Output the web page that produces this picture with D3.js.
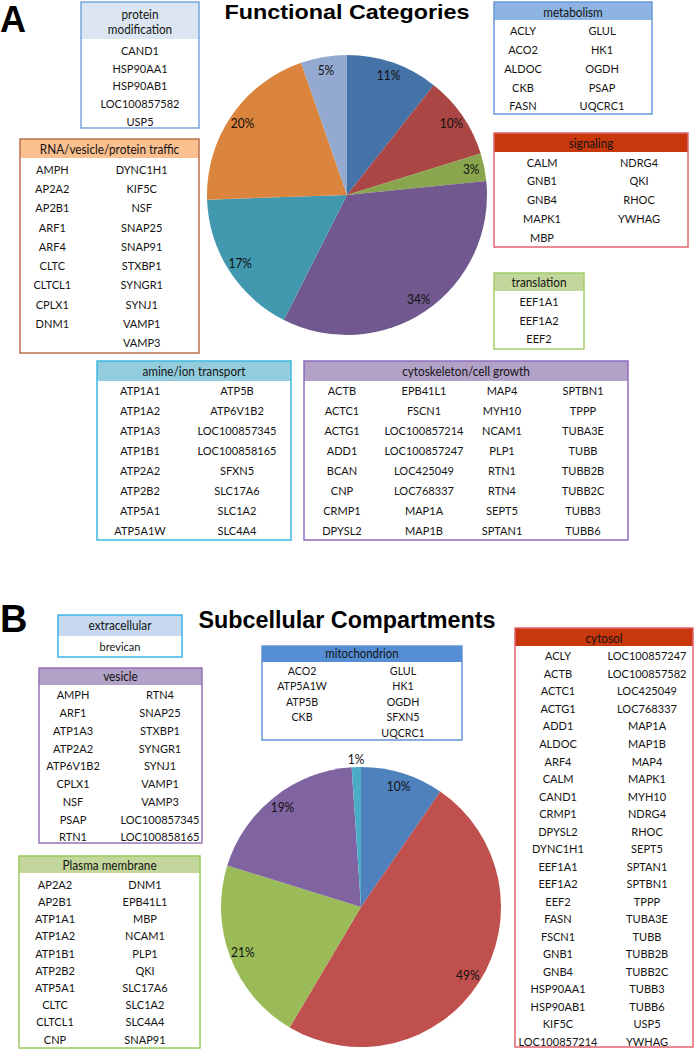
<!DOCTYPE html>
<html><head><meta charset="utf-8">
<script src="https://cdn.jsdelivr.net/npm/d3@7"></script>
<style>body{margin:0;background:#fff}svg{display:block}</style>
</head><body>
<script>
// ---------- DATA ----------
const funcCategories = ["metabolism","signaling","translation","cytoskeleton/cell growth","amine/ion transport","RNA/vesicle/protein traffic","protein modification"];
const funcCounts = [10, 9, 3, 32, 16, 19, 5];
const compCategories = ["mitochondrion","cytosol","Plasma membrane","vesicle","extracellular"];
const compCounts = [9, 46, 20, 18, 1];

const genesMetabolism = ["ACLY","ACO2","ALDOC","CKB","FASN","GLUL","HK1","OGDH","PSAP","UQCRC1"];
const genesSignaling = ["CALM","GNB1","GNB4","MAPK1","MBP","NDRG4","QKI","RHOC","YWHAG"];
const genesTranslation = ["EEF1A1","EEF1A2","EEF2"];
const genesCytoskeleton = ["ACTB","ACTC1","ACTG1","ADD1","BCAN","CNP","CRMP1","DPYSL2",
  "EPB41L1","FSCN1","LOC100857214","LOC100857247","LOC425049","LOC768337","MAP1A","MAP1B",
  "MAP4","MYH10","NCAM1","PLP1","RTN1","RTN4","SEPT5","SPTAN1",
  "SPTBN1","TPPP","TUBA3E","TUBB","TUBB2B","TUBB2C","TUBB3","TUBB6"];
const genesAmine = ["ATP1A1","ATP1A2","ATP1A3","ATP1B1","ATP2A2","ATP2B2","ATP5A1","ATP5A1W",
  "ATP5B","ATP6V1B2","LOC100857345","LOC100858165","SFXN5","SLC17A6","SLC1A2","SLC4A4"];
const genesTraffic = ["AMPH","AP2A2","AP2B1","ARF1","ARF4","CLTC","CLTCL1","CPLX1","DNM1",
  "DYNC1H1","KIF5C","NSF","SNAP25","SNAP91","STXBP1","SYNGR1","SYNJ1","VAMP1","VAMP3"];
const genesProtMod = ["CAND1","HSP90AA1","HSP90AB1","LOC100857582","USP5"];

const genesMito = ["ACO2","ATP5A1W","ATP5B","CKB","GLUL","HK1","OGDH","SFXN5","UQCRC1"];
const genesCytosol = ["ACLY","ACTB","ACTC1","ACTG1","ADD1","ALDOC","ARF4","CALM","CAND1","CRMP1","DPYSL2","DYNC1H1","EEF1A1","EEF1A2","EEF2","FASN","FSCN1","GNB1","GNB4","HSP90AA1","HSP90AB1","KIF5C","LOC100857214",
  "LOC100857247","LOC100857582","LOC425049","LOC768337","MAP1A","MAP1B","MAP4","MAPK1","MYH10","NDRG4","RHOC","SEPT5","SPTAN1","SPTBN1","TPPP","TUBA3E","TUBB","TUBB2B","TUBB2C","TUBB3","TUBB6","USP5","YWHAG"];
const genesPlasma = ["AP2A2","AP2B1","ATP1A1","ATP1A2","ATP1B1","ATP2B2","ATP5A1","CLTC","CLTCL1","CNP",
  "DNM1","EPB41L1","MBP","NCAM1","PLP1","QKI","SLC17A6","SLC1A2","SLC4A4","SNAP91"];
const genesVesicle = ["AMPH","ARF1","ATP1A3","ATP2A2","ATP6V1B2","CPLX1","NSF","PSAP","RTN1",
  "RTN4","SNAP25","STXBP1","SYNGR1","SYNJ1","VAMP1","VAMP3","LOC100857345","LOC100858165"];
const genesExtra = ["brevican"];

const titleA = "Functional Categories";
const titleB = "Subcellular Compartments";

// ---------- STYLE / LAYOUT ----------
const funcColors = ["#4572A7","#AA4643","#89A54E","#71588F","#4198AF","#DB843D","#93A9CF"];
const compColors = ["#4F81BD","#C0504D","#9BBB59","#8064A2","#4BACC6"];
const FONT = "Lato, 'Open Sans', sans-serif";
const HFONT = "'Liberation Sans', Arial, sans-serif";
const SX = 0.92; // narrow, Calibri-like text

const svg = d3.select("body").append("svg").attr("width",694).attr("height",1050);

function drawPie(cx, cy, r, values, colors) {
  const total = d3.sum(values);
  const arcs = d3.pie().sort(null).value(d => d)(values);
  const arc = d3.arc().innerRadius(0).outerRadius(r);
  const g = svg.append("g").attr("transform", `translate(${cx},${cy})`);
  g.selectAll("path").data(arcs).join("path")
    .attr("d", arc).attr("fill", (d,i) => colors[i]);
  const fmt = d3.format(".0%");
  g.selectAll("text").data(arcs).join("text")
    .attr("transform", d => {
      const frac = d.value / total;
      const lr = frac < 0.02 ? r + 8 : r * 0.905;
      const a = (d.startAngle + d.endAngle) / 2;
      return `translate(${lr*Math.sin(a)},${-lr*Math.cos(a)}) scale(${SX},1)`;
    })
    .attr("text-anchor","middle").attr("dy","0.35em")
    .attr("font-family", FONT).attr("font-size", 13).attr("fill","#111")
    .text(d => fmt(d.value / total));
}

function label(g, x, y, t, fs) {
  g.append("text").attr("transform", `translate(${x},${y}) scale(${SX},1)`).attr("dy","0.36em")
    .attr("text-anchor","middle").attr("font-family", FONT).attr("font-size", fs)
    .attr("fill","#141414").text(t);
}

function drawBox(L, titleLines, genes) {
  const g = svg.append("g");
  g.append("rect").attr("x", L.x).attr("y", L.y).attr("width", L.w).attr("height", L.hh)
    .attr("fill", L.fill);
  g.append("rect").attr("x", L.x).attr("y", L.y).attr("width", L.w).attr("height", L.h)
    .attr("fill","none").attr("stroke", L.stroke).attr("stroke-width", 1.5);
  titleLines.forEach((t, i) => label(g, L.x + L.w/2, L.ty[i], t, L.tfs || 12.8));
  let idx = 0;
  L.perCol.forEach((n, c) => {
    for (let k = 0; k < n; k++) label(g, L.cols[c], L.r0 + k * L.rh, genes[idx++], L.fs || 12);
  });
}

// Panel A
svg.append("text").attr("x",0).attr("y",32).attr("font-family",HFONT).attr("font-weight","bold")
  .attr("font-size",36).text("A");
svg.append("text").attr("x",347).attr("y",19).attr("text-anchor","middle").attr("font-family",HFONT)
  .attr("font-weight","bold").attr("font-size",21).attr("textLength",245).attr("lengthAdjust","spacingAndGlyphs")
  .text(titleA);
drawPie(347, 195, 140, funcCounts, funcColors);

drawBox({x:81,y:2,w:118,h:126,hh:37,fill:"#DCE6F2",stroke:"#7AA6DE",ty:[14,29],r0:50.3,rh:17.9,cols:[140],perCol:[5]},
  ["protein","modification"], genesProtMod);
drawBox({x:494,y:2,w:158,h:112,hh:18,fill:"#8DB4E2",stroke:"#6B9BD8",ty:[12],r0:31,rh:18.75,cols:[523,602],perCol:[5,5]},
  [funcCategories[0]], genesMetabolism);
drawBox({x:20,y:139,w:179,h:214,hh:19,fill:"#FAC090",stroke:"#B8714C",ty:[149],r0:169.3,rh:19.3,cols:[52.3,141.7],perCol:[9,10]},
  [funcCategories[5]], genesTraffic);
drawBox({x:494,y:133,w:194,h:114,hh:19,fill:"#C8380C",stroke:"#E06470",ty:[143.3],r0:162.3,rh:18.75,cols:[542,639],perCol:[5,4]},
  [funcCategories[1]], genesSignaling);
drawBox({x:494,y:273,w:90,h:76,hh:18,fill:"#C3D69B",stroke:"#A3CE6B",ty:[282.5],r0:301.7,rh:18.5,cols:[539],perCol:[3]},
  [funcCategories[2]], genesTranslation);
drawBox({x:97,y:361,w:194,h:179,hh:20,fill:"#93CDDD",stroke:"#3CB8E0",ty:[371],r0:391,rh:19.9,cols:[140,237],perCol:[8,8]},
  [funcCategories[4]], genesAmine);
drawBox({x:304,y:361,w:324,h:179,hh:20,fill:"#B3A2C7",stroke:"#8F6CBE",ty:[371],r0:391,rh:19.9,cols:[342,424,502,583],perCol:[8,8,8,8]},
  [funcCategories[3]], genesCytoskeleton);

// Panel B
svg.append("text").attr("x",0).attr("y",632).attr("font-family",HFONT).attr("font-weight","bold")
  .attr("font-size",38).text("B");
svg.append("text").attr("x",347).attr("y",628).attr("text-anchor","middle").attr("font-family",HFONT)
  .attr("font-weight","bold").attr("font-size",23).attr("textLength",297).attr("lengthAdjust","spacingAndGlyphs")
  .text(titleB);
drawPie(361, 907, 140, compCounts, compColors);

drawBox({x:58,y:615,w:124,h:42,hh:21,fill:"#C6D9F1",stroke:"#3CB5E8",ty:[625.5],r0:646.7,rh:17,cols:[120],perCol:[1]},
  [compCategories[4]], genesExtra);
drawBox({x:39,y:668,w:163,h:175,hh:17,fill:"#B3A2C7",stroke:"#9673B8",ty:[676.7],r0:695,rh:17.75,cols:[73,160],perCol:[9,9]},
  [compCategories[3]], genesVesicle);
drawBox({x:19,y:856,w:181,h:192,hh:17,fill:"#C3D69B",stroke:"#9BCB5E",ty:[865],r0:884.5,rh:17.2,cols:[55,145],perCol:[10,10]},
  [compCategories[2]], genesPlasma);
drawBox({x:262,y:646,w:200,h:94,hh:16,fill:"#558ED5",stroke:"#6395D5",ty:[653.5],r0:670.7,rh:15.5,cols:[302,403],perCol:[4,5],fs:11.6,tfs:12.4},
  [compCategories[0]], genesMito);
drawBox({x:515,y:628,w:178,h:419,hh:18,fill:"#C8380C",stroke:"#E06470",ty:[638.3],r0:656,rh:17.53,cols:[558,647],perCol:[23,23]},
  [compCategories[1]], genesCytosol);
</script>
</body></html>
